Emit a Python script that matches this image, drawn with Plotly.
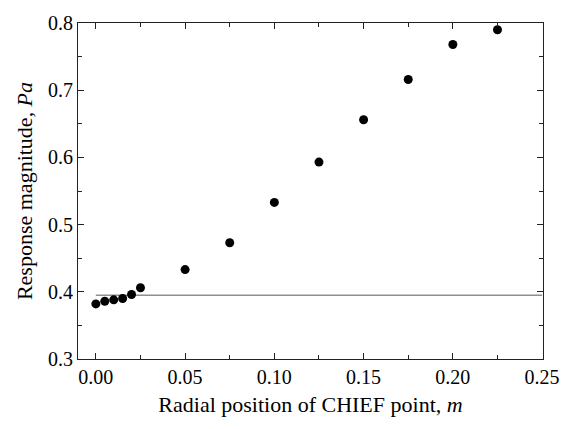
import plotly.graph_objects as go

x_pos = [0.0, 0.005, 0.01, 0.015, 0.02, 0.025, 0.05, 0.075, 0.10, 0.125, 0.15, 0.175, 0.20, 0.225]
response = [0.382, 0.386, 0.388, 0.390, 0.396, 0.406, 0.433, 0.473, 0.533, 0.593, 0.656, 0.716, 0.768, 0.790]
ref_x = [0.0, 0.25]
ref_y = [0.395, 0.395]

fig = go.Figure()
fig.add_trace(go.Scatter(x=ref_x, y=ref_y, mode="lines",
                         line=dict(color="#555555", width=1), showlegend=False))
fig.add_trace(go.Scatter(x=x_pos, y=response, mode="markers",
                         marker=dict(color="black", size=9), showlegend=False))

font = dict(family="Times New Roman, Tinos, Liberation Serif, DejaVu Serif, serif", color="black")
axis_common = dict(showline=True, linecolor="#222222", linewidth=1, mirror="ticks",
                   ticks="inside", ticklen=6, tickcolor="#222222", showgrid=False,
                   zeroline=False, tickfont=dict(size=20, **font))
fig.update_xaxes(range=[-0.01, 0.2505], tickvals=[0, 0.05, 0.10, 0.15, 0.20, 0.25],
                 ticktext=["0.00", "0.05", "0.10", "0.15", "0.20", "0.25"],
                 minor=dict(ticks="inside", ticklen=4, tickcolor="#222222", dtick=0.025),
                 title=dict(text="Radial position of CHIEF point, <i>m</i>", font=dict(size=22, **font), standoff=9),
                 **axis_common)
fig.update_yaxes(range=[0.3, 0.8], tickvals=[0.3, 0.4, 0.5, 0.6, 0.7, 0.8],
                 ticktext=["0.3", "0.4", "0.5", "0.6", "0.7", "0.8"],
                 minor=dict(ticks="inside", ticklen=4, tickcolor="#222222", dtick=0.05),
                 title=dict(text="Response magnitude, <i>Pa</i>", font=dict(size=22, **font), standoff=9),
                 **axis_common)
fig.update_layout(width=572, height=429, margin=dict(l=78, r=28, t=15, b=70),
                  plot_bgcolor="white", paper_bgcolor="white", font=font)
fig.write_html("out.html")
